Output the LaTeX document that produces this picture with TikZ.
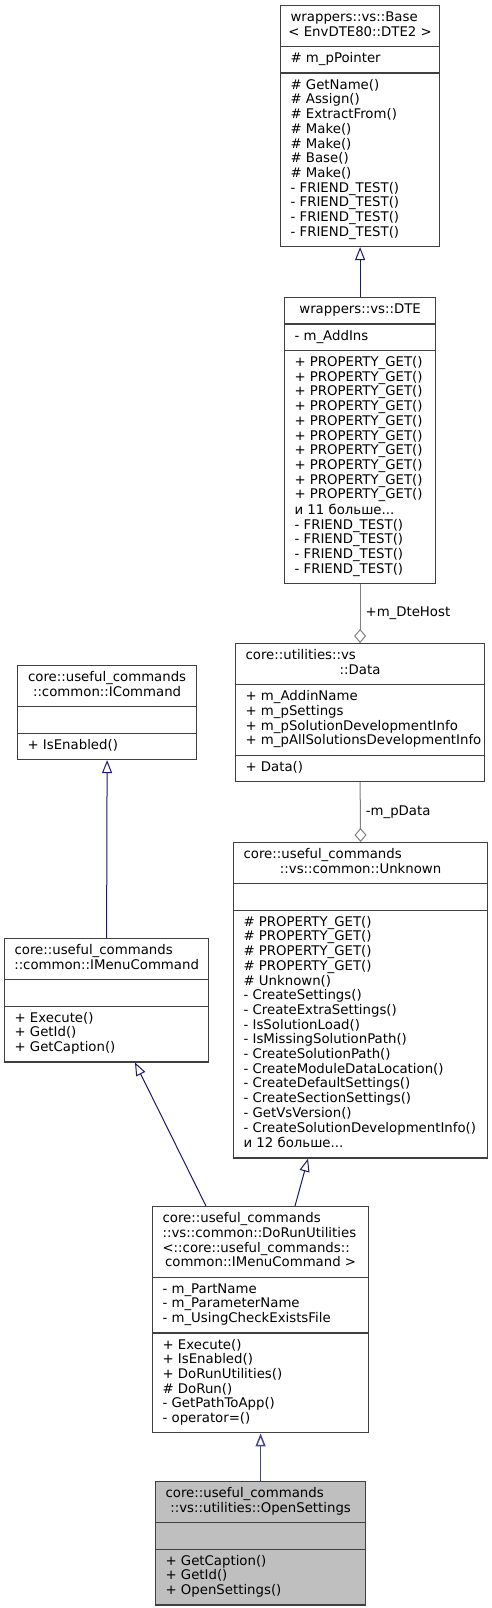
\documentclass[tikz,border=0pt]{standalone}
\usepackage{fontspec}
\setmainfont{DejaVu Sans}
\usetikzlibrary{shapes.multipart,arrows.meta,calc}
\definecolor{edgeblue}{HTML}{191970}
\definecolor{edgeblue2}{HTML}{46468C}
\definecolor{edgegray}{HTML}{808080}
\definecolor{boxline}{HTML}{404040}
\definecolor{focusfill}{HTML}{BFBFBF}
\newcommand\Ll[1]{\hbox to\hsize{\strut#1\hss}}
\newcommand\Lc[1]{\hbox to\hsize{\hss\strut#1\hss}}
\newcommand\Pt[2]{\vbox{\hsize=#1pt\relax#2}}
\tikzset{
  cls/.style={rectangle split, rectangle split parts=3, draw=boxline, line width=1.2pt,
    inner xsep=10pt, inner ysep=5.25pt, fill=white, text=black, anchor=north west,
    font=\fontsize{13.3}{14.7}\selectfont},
  inh/.style={draw=edgeblue, line width=1pt, -{Triangle[fill=white, length=13pt, width=10pt]}},
  agg/.style={draw=edgegray, line width=1pt, -{Diamond[fill=white, length=14pt, width=12pt]}},
  lbl/.style={anchor=west, xshift=4pt, text=black, inner sep=1pt, font=\fontsize{13.3}{14.7}\selectfont}
}
\begin{document}
\begin{tikzpicture}[x=1pt,y=-1pt]
\useasboundingbox[fill=white] (0,0) rectangle (492,1608);

\node[cls] (base) at (280,5) {\Pt{139}{\Ll{wrappers::vs::Base}\Lc{< EnvDTE80::DTE2 >}}
  \nodepart{two}\Pt{139}{\Ll{\# m\_pPointer}}
  \nodepart{three}\Pt{139}{\Ll{\# GetName()}\Ll{\# Assign()}\Ll{\# ExtractFrom()}\Ll{\# Make()}\Ll{\# Make()}\Ll{\# Base()}\Ll{\# Make()}\Ll{- FRIEND\_TEST()}\Ll{- FRIEND\_TEST()}\Ll{- FRIEND\_TEST()}\Ll{- FRIEND\_TEST()}}};

\node[cls] (dte) at (284,297) {\Pt{131}{\Lc{wrappers::vs::DTE}}
  \nodepart{two}\Pt{131}{\Ll{- m\_AddIns}}
  \nodepart{three}\Pt{131}{\Ll{+ PROPERTY\_GET()}\Ll{+ PROPERTY\_GET()}\Ll{+ PROPERTY\_GET()}\Ll{+ PROPERTY\_GET()}\Ll{+ PROPERTY\_GET()}\Ll{+ PROPERTY\_GET()}\Ll{+ PROPERTY\_GET()}\Ll{+ PROPERTY\_GET()}\Ll{+ PROPERTY\_GET()}\Ll{+ PROPERTY\_GET()}\Ll{и 11 больше...}\Ll{- FRIEND\_TEST()}\Ll{- FRIEND\_TEST()}\Ll{- FRIEND\_TEST()}\Ll{- FRIEND\_TEST()}}};

\node[cls] (data) at (235,643) {\Pt{229}{\Ll{core::utilities::vs}\Lc{::Data}}
  \nodepart{two}\Pt{229}{\Ll{+ m\_AddinName}\Ll{+ m\_pSettings}\Ll{+ m\_pSolutionDevelopmentInfo}\Ll{+ m\_pAllSolutionsDevelopmentInfo}}
  \nodepart{three}\Pt{229}{\Ll{+ Data()}}};

\node[cls] (unknown) at (233,842) {\Pt{234}{\Ll{core::useful\_commands}\Lc{::vs::common::Unknown}}
  \nodepart{two}\Pt{234}{\Ll{}}
  \nodepart{three}\Pt{234}{\Ll{\# PROPERTY\_GET()}\Ll{\# PROPERTY\_GET()}\Ll{\# PROPERTY\_GET()}\Ll{\# PROPERTY\_GET()}\Ll{\# Unknown()}\Ll{- CreateSettings()}\Ll{- CreateExtraSettings()}\Ll{- IsSolutionLoad()}\Ll{- IsMissingSolutionPath()}\Ll{- CreateSolutionPath()}\Ll{- CreateModuleDataLocation()}\Ll{- CreateDefaultSettings()}\Ll{- CreateSectionSettings()}\Ll{- GetVsVersion()}\Ll{- CreateSolutionDevelopmentInfo()}\Ll{и 12 больше...}}};

\node[cls] (icommand) at (17,665) {\Pt{159}{\Lc{core::useful\_commands}\Lc{::common::ICommand}}
  \nodepart{two}\Pt{159}{\Ll{}}
  \nodepart{three}\Pt{159}{\Ll{+ IsEnabled()}}};

\node[cls] (imenu) at (4,938) {\Pt{184}{\Ll{core::useful\_commands}\Lc{::common::IMenuCommand}}
  \nodepart{two}\Pt{184}{\Ll{}}
  \nodepart{three}\Pt{184}{\Ll{+ Execute()}\Ll{+ GetId()}\Ll{+ GetCaption()}}};

\node[cls] (dorun) at (152,1206) {\Pt{196}{\Ll{core::useful\_commands}\Ll{::vs::common::DoRunUtilities}\Ll{<::core::useful\_commands::}\Lc{common::IMenuCommand >}}
  \nodepart{two}\Pt{196}{\Ll{- m\_PartName}\Ll{- m\_ParameterName}\Ll{- m\_UsingCheckExistsFile}}
  \nodepart{three}\Pt{196}{\Ll{+ Execute()}\Ll{+ IsEnabled()}\Ll{+ DoRunUtilities()}\Ll{\# DoRun()}\Ll{- GetPathToApp()}\Ll{- operator=()}}};

\node[cls, fill=focusfill] (opens) at (155,1481) {\Pt{190}{\Ll{core::useful\_commands}\Lc{::vs::utilities::OpenSettings}}
  \nodepart{two}\Pt{190}{\Ll{}}
  \nodepart{three}\Pt{190}{\Ll{+ GetCaption()}\Ll{+ GetId()}\Ll{+ OpenSettings()}}};

\coordinate (dr1) at ($(dorun.north west)+(54,0)$);
\coordinate (dr2) at ($(dorun.north west)+(143,0)$);
\coordinate (im1) at ($(imenu.south west)+(131,0)$);
\coordinate (un1) at ($(unknown.south west)+(75,0)$);

\draw[inh] (dte.north) -- (base.south);
\draw[agg] (dte.south) -- node[lbl]{+m\_DteHost} (data.north);
\draw[agg] (data.south) -- node[lbl]{-m\_pData} (unknown.north);
\draw[inh] (imenu.north) -- (icommand.south);
\draw[inh] (dr1) -- (im1);
\draw[inh] (dr2) -- (un1);
\draw[inh, draw=edgeblue2, line width=1.5pt] (opens.north) -- (dorun.south);
\end{tikzpicture}
\end{document}
